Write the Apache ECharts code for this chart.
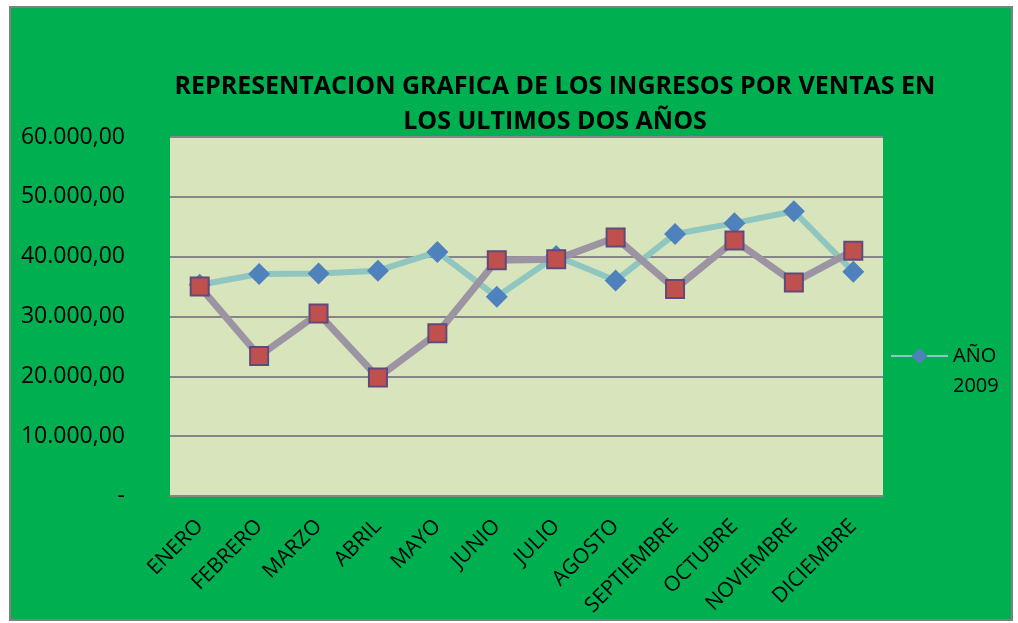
<!DOCTYPE html>
<html>
<head>
<meta charset="utf-8">
<script src="https://cdn.jsdelivr.net/npm/echarts@6/dist/echarts.min.js"></script>
<style>
  html, body { margin: 0; padding: 0; background: #fff; }
  #chart { width: 1018px; height: 623px; }
</style>
</head>
<body>
<div id="chart"></div>
<script>
// meses
const months = ['ENERO', 'FEBRERO', 'MARZO', 'ABRIL', 'MAYO', 'JUNIO', 'JULIO',
  'AGOSTO', 'SEPTIEMBRE', 'OCTUBRE', 'NOVIEMBRE', 'DICIEMBRE']

// ingresos por ventas
const ventas2009 = [35300, 37100, 37200, 37650, 40800, 33300, 40100, 36000, 43800, 45600, 47600, 37500]
const ventas2010 = [35000, 23400, 30500, 19800, 27200, 39400, 39550, 43200, 34600, 42700, 35700, 41000]

const yTicks = [0, 10000, 20000, 30000, 40000, 50000, 60000]

const font = '"Open Sans", "Noto Sans", sans-serif'

// 60000 -> "60.000,00", 0 -> "-"
const fmt = v => {
  if (v === 0) return '-'
  return String(Math.round(v)).replace(/\B(?=(\d{3})+(?!\d))/g, '.') + ',00'
}

const chart = echarts.init(document.getElementById('chart'))

chart.setOption({
  backgroundColor: '#ffffff',
  animation: false,
  graphic: [{
    type: 'rect',
    z: -10,
    shape: { x: 10, y: 7, width: 1002, height: 613 },
    style: { fill: '#00B050', stroke: '#808080', lineWidth: 2 }
  }],
  title: {
    text: 'REPRESENTACION GRAFICA DE LOS INGRESOS POR VENTAS EN\nLOS ULTIMOS DOS AÑOS',
    left: 550,
    top: 64,
    textAlign: 'center',
    textStyle: {
      fontFamily: font,
      fontWeight: 'bold',
      fontSize: 25,
      lineHeight: 35,
      color: '#000'
    }
  },
  legend: {
    data: ['AÑO 2009'],
    orient: 'vertical',
    left: 885,
    top: 306,
    itemWidth: 57,
    itemHeight: 20,
    itemGap: 0,
    // línea vacía arriba para que "AÑO" quede a la altura del icono
    formatter: () => ' \nAÑO\n2009',
    textStyle: {
      fontFamily: font,
      fontSize: 20,
      lineHeight: 30,
      color: '#000'
    }
  },
  grid: {
    left: 170,
    top: 137,
    right: 135,
    bottom: 127,
    show: true,
    backgroundColor: '#D8E4BC',
    borderWidth: 0
  },
  xAxis: {
    type: 'category',
    data: months,
    boundaryGap: true,
    axisLine: { lineStyle: { color: '#868686', width: 2 } },
    axisTick: { show: false },
    axisLabel: {
      rotate: 45,
      interval: 0,
      margin: 27,
      fontFamily: font,
      fontSize: 21,
      color: '#000'
    }
  },
  yAxis: {
    type: 'value',
    min: yTicks[0],
    max: yTicks[yTicks.length - 1],
    interval: yTicks[1] - yTicks[0],
    axisLine: { show: false },
    axisTick: { show: false },
    splitLine: { lineStyle: { color: '#868686', width: 2 } },
    axisLabel: {
      margin: 45,
      fontFamily: font,
      fontSize: 23,
      color: '#000',
      formatter: fmt
    }
  },
  series: [
    {
      name: 'AÑO 2009',
      type: 'line',
      data: ventas2009,
      symbol: 'diamond',
      symbolSize: 22,
      z: 3,
      lineStyle: { color: '#8FC6BF', width: 6 },
      itemStyle: { color: '#4F81BD', borderWidth: 0 }
    },
    {
      name: 'AÑO 2010',
      type: 'line',
      data: ventas2010,
      symbol: 'rect',
      symbolSize: 18,
      z: 4,
      lineStyle: { color: '#9C93A3', width: 7 },
      itemStyle: { color: '#C0504D', borderColor: '#604A7B', borderWidth: 2 }
    }
  ]
})
</script>
</body>
</html>
